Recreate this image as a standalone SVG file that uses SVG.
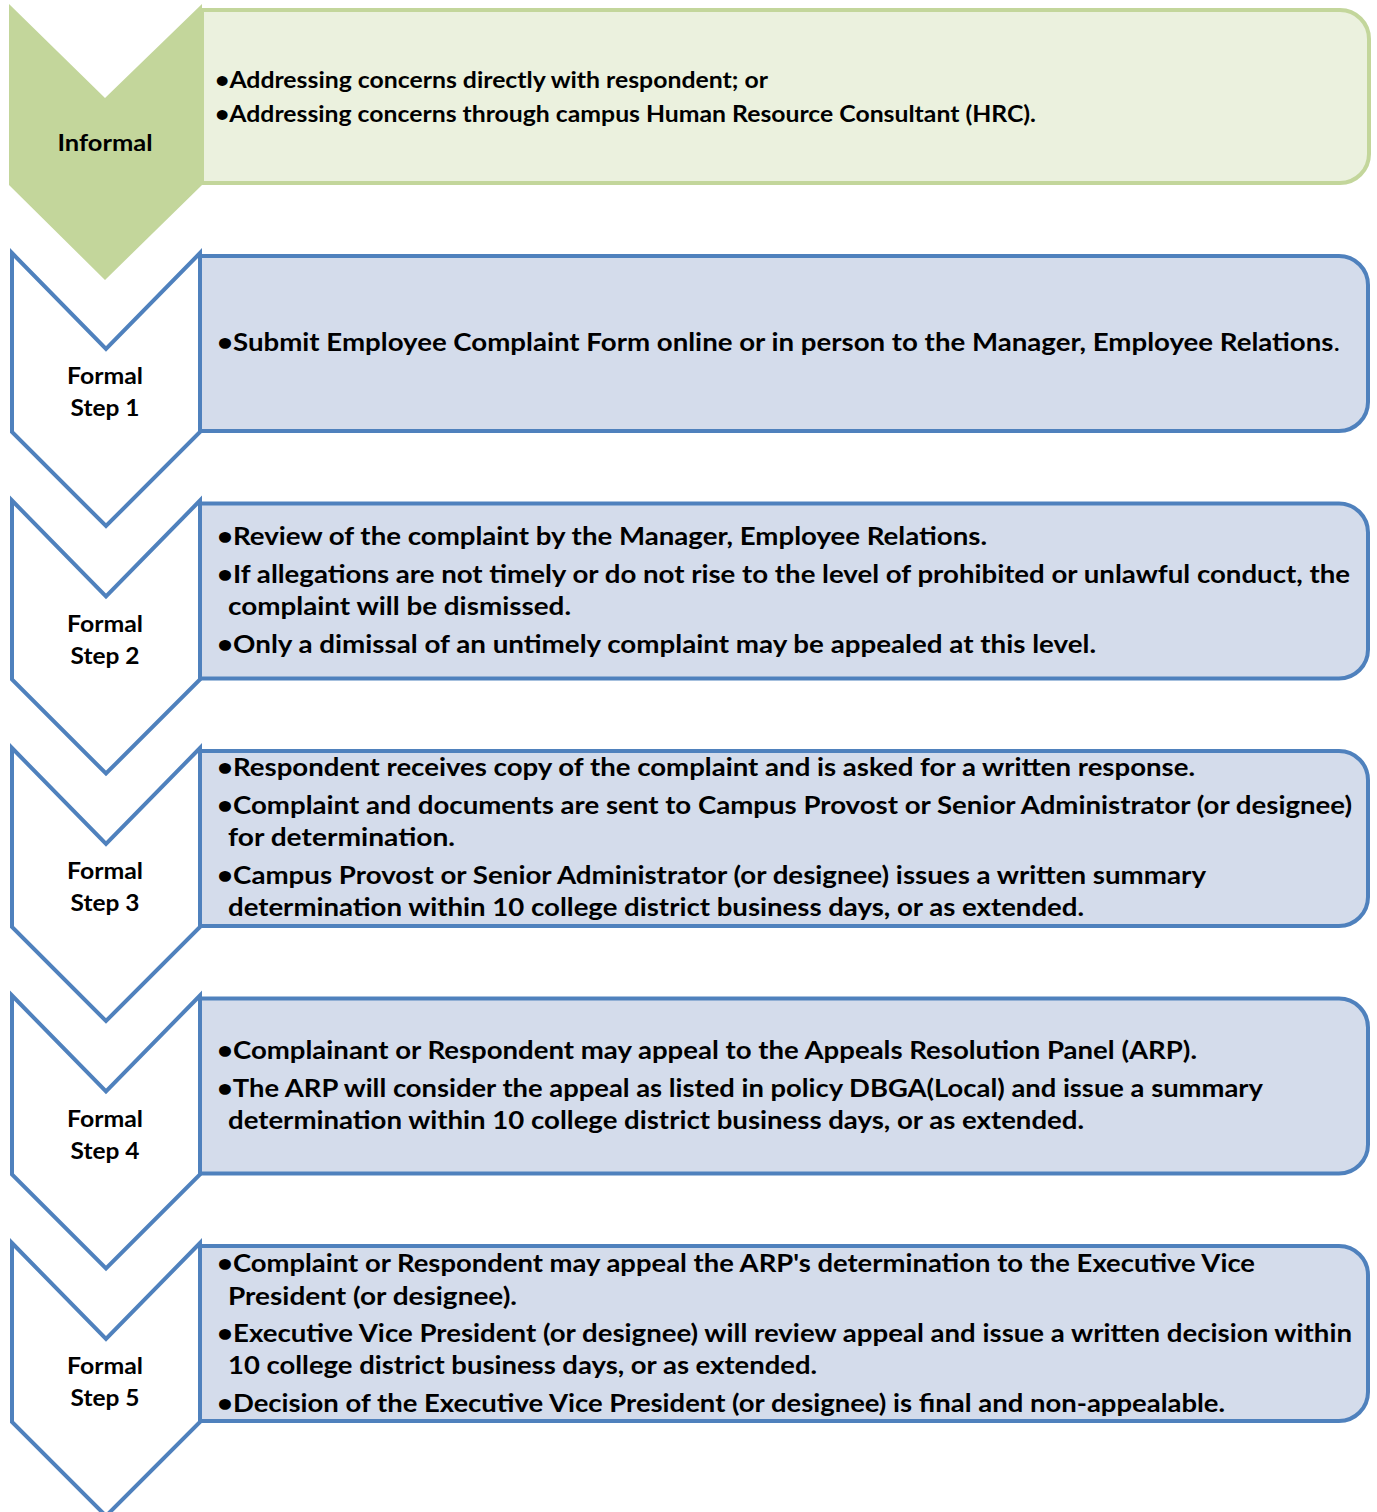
<svg xmlns="http://www.w3.org/2000/svg" width="1377" height="1512" viewBox="0 0 1377 1512">
<style>
.chev-g{fill:#C3D69B;stroke:none}
.box-g{fill:#EBF1DE;stroke:#C3D69B;stroke-width:4}
.chev-b{fill:#FFFFFF;stroke:#4F81BD;stroke-width:4;stroke-linejoin:miter}
.box-b{fill:#D4DCEB;stroke:#4F81BD;stroke-width:4}
.lbl{font-family:Lato,"Liberation Sans",Arial,sans-serif;font-weight:bold;font-size:23px;fill:#000;text-anchor:middle}
.txt{font-family:Lato,"Liberation Sans",Arial,sans-serif;font-weight:bold;font-size:25px;fill:#000}
.txt-s{font-family:Lato,"Liberation Sans",Arial,sans-serif;font-weight:bold;font-size:23px;fill:#000}
</style>
<rect x="0" y="0" width="1377" height="1512" fill="#FFFFFF"/>

<g id="informal">
<path class="chev-g" d="M9,4 L105,98 L202,4 L202,185 L105,280 L9,185 Z"/>
<path class="box-g" d="M202,10 H1340 A29,29 0 0 1 1369,39 V154 A29,29 0 0 1 1340,183 H202 Z"/>
<text class="lbl" x="105" y="151" font-size="24" textLength="95" lengthAdjust="spacingAndGlyphs">Informal</text>
<text class="txt-s" x="215" y="88" textLength="553" lengthAdjust="spacingAndGlyphs">•Addressing concerns directly with respondent; or</text>
<text class="txt-s" x="215" y="122" textLength="821" lengthAdjust="spacingAndGlyphs">•Addressing concerns through campus Human Resource Consultant (HRC).</text>
</g>

<g id="step1">
<path class="chev-b" d="M12,253 L106,349 L200,253 L200,432 L106,526 L12,432 Z"/>
<path class="box-b" d="M200,256 H1339 A29,29 0 0 1 1368,285 V402 A29,29 0 0 1 1339,431 H200 Z"/>
<text class="lbl" x="105" y="384" textLength="76" lengthAdjust="spacingAndGlyphs">Formal</text>
<text class="lbl" x="105" y="416" textLength="69" lengthAdjust="spacingAndGlyphs">Step 1</text>
<text class="txt" x="217" y="351" textLength="1123" lengthAdjust="spacingAndGlyphs">•Submit Employee Complaint Form online or in person to the Manager, Employee Relations<tspan font-weight="normal">.</tspan></text>
</g>

<g id="step2">
<path class="chev-b" d="M12,500.5 L106,596.5 L200,500.5 L200,679.5 L106,773.5 L12,679.5 Z"/>
<path class="box-b" d="M200,503.5 H1339 A29,29 0 0 1 1368,532.5 V649.5 A29,29 0 0 1 1339,678.5 H200 Z"/>
<text class="lbl" x="105" y="631.5" textLength="76" lengthAdjust="spacingAndGlyphs">Formal</text>
<text class="lbl" x="105" y="663.5" textLength="69" lengthAdjust="spacingAndGlyphs">Step 2</text>
<text class="txt" x="217" y="545" textLength="770" lengthAdjust="spacingAndGlyphs">•Review of the complaint by the Manager, Employee Relations.</text>
<text class="txt" x="217" y="583" textLength="1133" lengthAdjust="spacingAndGlyphs">•If allegations are not timely or do not rise to the level of prohibited or unlawful conduct, the</text>
<text class="txt" x="228" y="615" textLength="343" lengthAdjust="spacingAndGlyphs">complaint will be dismissed.</text>
<text class="txt" x="217" y="653" textLength="879" lengthAdjust="spacingAndGlyphs">•Only a dimissal of an untimely complaint may be appealed at this level.</text>
</g>

<g id="step3">
<path class="chev-b" d="M12,748 L106,844 L200,748 L200,927 L106,1021 L12,927 Z"/>
<path class="box-b" d="M200,751 H1339 A29,29 0 0 1 1368,780 V897 A29,29 0 0 1 1339,926 H200 Z"/>
<text class="lbl" x="105" y="879" textLength="76" lengthAdjust="spacingAndGlyphs">Formal</text>
<text class="lbl" x="105" y="911" textLength="69" lengthAdjust="spacingAndGlyphs">Step 3</text>
<text class="txt" x="217" y="776" textLength="978" lengthAdjust="spacingAndGlyphs">•Respondent receives copy of the complaint and is asked for a written response.</text>
<text class="txt" x="217" y="814" textLength="1135" lengthAdjust="spacingAndGlyphs">•Complaint and documents are sent to Campus Provost or Senior Administrator (or designee)</text>
<text class="txt" x="228" y="846" textLength="227" lengthAdjust="spacingAndGlyphs">for determination.</text>
<text class="txt" x="217" y="884" textLength="989" lengthAdjust="spacingAndGlyphs">•Campus Provost or Senior Administrator (or designee) issues a written summary</text>
<text class="txt" x="228" y="916" textLength="856" lengthAdjust="spacingAndGlyphs">determination within 10 college district business days, or as extended.</text>
</g>

<g id="step4">
<path class="chev-b" d="M12,995.5 L106,1091.5 L200,995.5 L200,1174.5 L106,1268.5 L12,1174.5 Z"/>
<path class="box-b" d="M200,998.5 H1339 A29,29 0 0 1 1368,1027.5 V1144.5 A29,29 0 0 1 1339,1173.5 H200 Z"/>
<text class="lbl" x="105" y="1126.5" textLength="76" lengthAdjust="spacingAndGlyphs">Formal</text>
<text class="lbl" x="105" y="1158.5" textLength="69" lengthAdjust="spacingAndGlyphs">Step 4</text>
<text class="txt" x="217" y="1059" textLength="980" lengthAdjust="spacingAndGlyphs">•Complainant or Respondent may appeal to the Appeals Resolution Panel (ARP).</text>
<text class="txt" x="217" y="1097" textLength="1046" lengthAdjust="spacingAndGlyphs">•The ARP will consider the appeal as listed in policy DBGA(Local) and issue a summary</text>
<text class="txt" x="228" y="1129" textLength="856" lengthAdjust="spacingAndGlyphs">determination within 10 college district business days, or as extended.</text>
</g>

<g id="step5">
<path class="chev-b" d="M12,1243 L106,1339 L200,1243 L200,1422 L106,1516 L12,1422 Z"/>
<path class="box-b" d="M200,1246 H1339 A29,29 0 0 1 1368,1275 V1392 A29,29 0 0 1 1339,1421 H200 Z"/>
<text class="lbl" x="105" y="1374" textLength="76" lengthAdjust="spacingAndGlyphs">Formal</text>
<text class="lbl" x="105" y="1406" textLength="69" lengthAdjust="spacingAndGlyphs">Step 5</text>
<text class="txt" x="217" y="1272" textLength="1038" lengthAdjust="spacingAndGlyphs">•Complaint or Respondent may appeal the ARP's determination to the Executive Vice</text>
<text class="txt" x="228" y="1305" textLength="289" lengthAdjust="spacingAndGlyphs">President (or designee).</text>
<text class="txt" x="217" y="1342" textLength="1135" lengthAdjust="spacingAndGlyphs">•Executive Vice President (or designee) will review appeal and issue a written decision within</text>
<text class="txt" x="228" y="1374" textLength="589" lengthAdjust="spacingAndGlyphs">10 college district business days, or as extended.</text>
<text class="txt" x="217" y="1412" textLength="1008" lengthAdjust="spacingAndGlyphs">•Decision of the Executive Vice President (or designee) is final and non-appealable.</text>
</g>
</svg>
